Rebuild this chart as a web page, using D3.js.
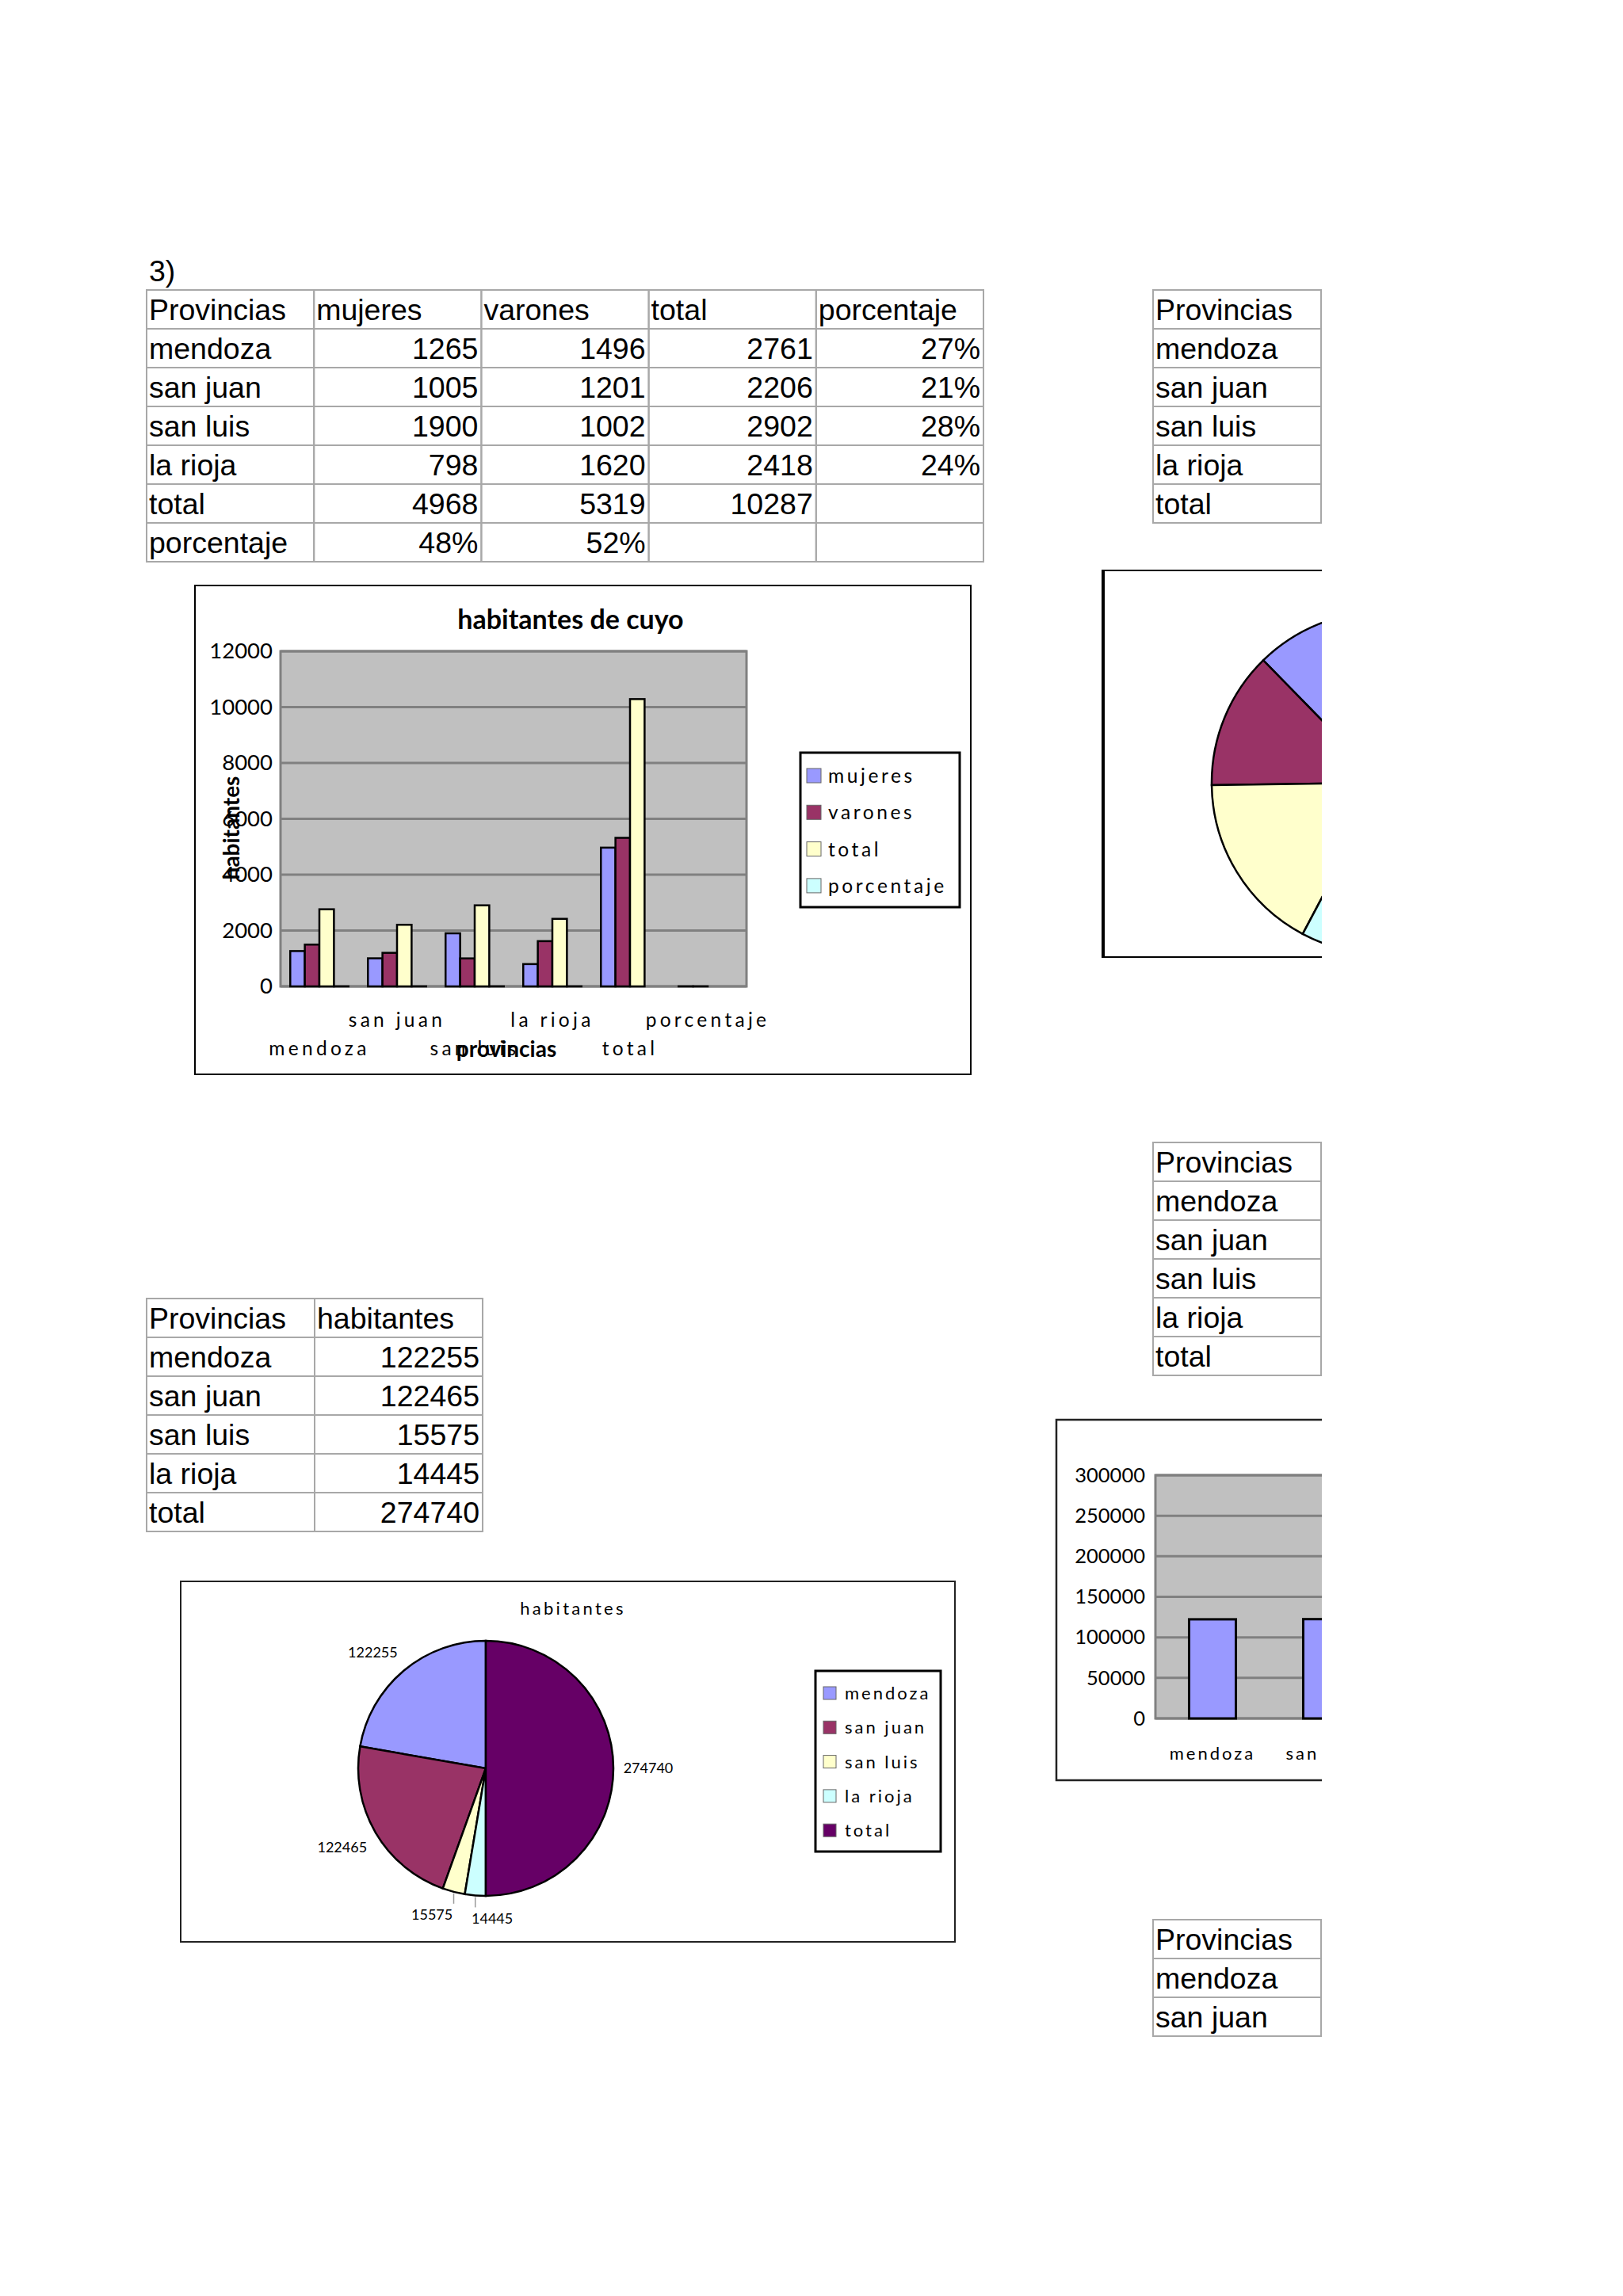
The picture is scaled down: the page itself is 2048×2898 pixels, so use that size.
<!DOCTYPE html>
<html>
<head>
<meta charset="utf-8">
<script src="https://cdn.jsdelivr.net/npm/d3@7"></script>
<style>
  body { margin: 0; background: #fff; }
</style>
</head>
<body>
<div id="page"></div>
<script>

// ---------------------------------------------------------------- data
var provincias = ["mendoza", "san juan", "san luis", "la rioja", "total"];
var mujeres = [1265, 1005, 1900, 798, 4968];
var varones = [1496, 1201, 1002, 1620, 5319];
var totales = [2761, 2206, 2902, 2418, 10287];
var porcentajeCol = ["27%", "21%", "28%", "24%", ""];
var porcentajeRow = ["48%", "52%", "", ""];
var habitantes = [122255, 122465, 15575, 14445, 274740];

// series of the first chart (the sheet range includes the porcentaje row and column)
var series1 = ["mujeres", "varones", "total", "porcentaje"];
var categories1 = ["mendoza", "san juan", "san luis", "la rioja", "total", "porcentaje"];
var bars1 = {
  mujeres:    [1265, 1005, 1900, 798, 4968, 0.48],
  varones:    [1496, 1201, 1002, 1620, 5319, 0.52],
  total:      [2761, 2206, 2902, 2418, 10287, null],
  porcentaje: [0.27, 0.21, 0.28, 0.24, null, null]
};
var ticks1 = [0, 2000, 4000, 6000, 8000, 10000, 12000];
var ticks2 = [0, 50000, 100000, 150000, 200000, 250000, 300000];

// cropped pie at the right: shares estimated from the visible slice angles
var pie1Shares = [12.3, 12.9, 17.0, 7.7, 50.0];

var colors = ["#9999ff", "#993366", "#ffffcc", "#ccffff", "#660066"];

// ---------------------------------------------------------------- page
var W = 2048, H = 2898;
var tableFont = "'Liberation Sans', Arial, sans-serif";
var chartFont = "Lato, 'Open Sans', sans-serif";

var svg = d3.select("#page").append("svg")
  .attr("width", W).attr("height", H)
  .style("background", "#fff");

// the exported page is cut at the right margin
svg.append("defs").append("clipPath").attr("id", "pageClip")
  .append("rect").attr("x", 0).attr("y", 0).attr("width", 1668).attr("height", H);
var page = svg.append("g").attr("clip-path", "url(#pageClip)");

// ---------------------------------------------------------------- tables
function drawTable(x, y, colW, rowH, rows) {
  var g = page.append("g").attr("transform", "translate(" + x + "," + y + ")");
  rows.forEach(function(row, i) {
    var cells = g.selectAll(null).data(row).enter().append("g");
    cells.append("rect")
      .attr("x", function(d, j) { return j * colW; })
      .attr("y", i * rowH)
      .attr("width", colW).attr("height", rowH)
      .style("fill", "none").style("stroke", "#a8a8a8").style("stroke-width", 2);
    cells.append("text")
      .attr("x", function(d, j) { return (i > 0 && j > 0) ? (j + 1) * colW - 4 : j * colW + 3; })
      .attr("y", i * rowH + 38)
      .attr("text-anchor", function(d, j) { return (i > 0 && j > 0) ? "end" : "start"; })
      .style("font-family", tableFont).style("font-size", "37.5px").style("fill", "#000")
      .text(function(d) { return d; });
  });
}

page.append("text").attr("x", 188).attr("y", 355)
  .style("font-family", tableFont).style("font-size", "37.5px").text("3)");

var rowsT1 = [["Provincias", "mujeres", "varones", "total", "porcentaje"]];
provincias.forEach(function(p, i) {
  rowsT1.push([p, mujeres[i], varones[i], totales[i], porcentajeCol[i]]);
});
rowsT1.push(["porcentaje"].concat(porcentajeRow));
drawTable(185, 366, 211.2, 49, rowsT1);

var rowsT2 = [["Provincias", "habitantes"]];
provincias.forEach(function(p, i) { rowsT2.push([p, habitantes[i]]); });
drawTable(185, 1639, 212, 49, rowsT2);

// right column tables (only the first column survives the crop)
var rowsRight = [["Provincias"]].concat(provincias.map(function(p) { return [p]; }));
drawTable(1455, 366, 212, 49, rowsRight);
drawTable(1455, 1442, 212, 49, rowsRight);
drawTable(1455, 2423, 212, 49, rowsRight.slice(0, 3));

// ---------------------------------------------------------------- chart 1: habitantes de cuyo
var c1 = { left: 354, right: 942, top: 822, bottom: 1245 };
var g1 = page.append("g");

g1.append("rect").attr("x", 246).attr("y", 739).attr("width", 979).attr("height", 617)
  .style("fill", "#fff").style("stroke", "#000").style("stroke-width", 2);

var x0 = d3.scaleBand().domain(categories1).range([c1.left, c1.right])
  .paddingInner(0.25).paddingOuter(0.125);
var x1 = d3.scaleBand().domain(series1).range([0, x0.bandwidth()]);
var y1 = d3.scaleLinear().domain([0, 12000]).range([c1.bottom, c1.top]);

g1.append("rect").attr("x", c1.left).attr("y", c1.top)
  .attr("width", c1.right - c1.left).attr("height", c1.bottom - c1.top)
  .style("fill", "#c0c0c0").style("stroke", "#808080").style("stroke-width", 3);

g1.selectAll(".grid").data(ticks1).enter().append("line")
  .attr("x1", c1.left).attr("x2", c1.right)
  .attr("y1", function(d) { return y1(d); }).attr("y2", function(d) { return y1(d); })
  .style("stroke", "#808080").style("stroke-width", 3);

var ax1 = g1.append("g").attr("transform", "translate(" + c1.left + ",0)")
  .call(d3.axisLeft(y1).tickValues(ticks1).tickSize(0).tickPadding(10).tickFormat(d3.format("d")));
ax1.select(".domain").remove();
ax1.selectAll("text").style("font-family", chartFont).style("font-size", "27.5px").style("fill", "#000");

series1.forEach(function(s, si) {
  var data = bars1[s].map(function(v, i) { return { c: categories1[i], v: v }; })
    .filter(function(d) { return d.v !== null; });
  g1.selectAll(".bar" + si).data(data).enter().append("rect")
    .attr("x", function(d) { return x0(d.c) + x1(s); })
    .attr("y", function(d) { return y1(d.v); })
    .attr("width", x1.bandwidth())
    .attr("height", function(d) { return y1(0) - y1(d.v); })
    .style("fill", colors[si]).style("stroke", "#000").style("stroke-width", 2.5);
});

// staggered category labels
g1.selectAll(".xlab").data(categories1).enter().append("text")
  .attr("x", function(d) { return x0(d) + x0.bandwidth() / 2; })
  .attr("y", function(d, i) { return i % 2 === 0 ? 1332 : 1296; })
  .attr("text-anchor", "middle")
  .style("font-family", chartFont).style("font-size", "24.5px").style("letter-spacing", "4.3px")
  .text(function(d) { return d; });

g1.append("text").attr("x", 720).attr("y", 794).attr("text-anchor", "middle")
  .style("font-family", chartFont).style("font-size", "34px").style("font-weight", "bold")
  .text("habitantes de cuyo");
g1.append("text").attr("x", 639).attr("y", 1334).attr("text-anchor", "middle")
  .style("font-family", chartFont).style("font-size", "28px").style("font-weight", "bold")
  .text("provincias");
g1.append("text").attr("transform", "translate(302,1045) rotate(-90)").attr("text-anchor", "middle")
  .style("font-family", chartFont).style("font-size", "28px").style("font-weight", "bold")
  .text("habitantes");

var leg1 = g1.append("g").attr("transform", "translate(1010,950)");
leg1.append("rect").attr("width", 201).attr("height", 195)
  .style("fill", "#fff").style("stroke", "#000").style("stroke-width", 3);
var li1 = leg1.selectAll(".li").data(series1).enter().append("g")
  .attr("transform", function(d, i) { return "translate(0," + (29 + i * 46.3) + ")"; });
li1.append("rect").attr("x", 8).attr("y", -9).attr("width", 18).attr("height", 18)
  .style("fill", function(d, i) { return colors[i]; }).style("stroke", "#666").style("stroke-width", 1);
li1.append("text").attr("x", 35).attr("y", 9)
  .style("font-family", chartFont).style("font-size", "24.5px").style("letter-spacing", "3.6px")
  .text(function(d) { return d; });

// ---------------------------------------------------------------- chart 1b: cropped pie (right)
var g1b = page.append("g");
g1b.append("rect").attr("x", 1391).attr("y", 720).attr("width", 700).attr("height", 488)
  .style("fill", "#fff").style("stroke", "#000").style("stroke-width", 2);
g1b.append("line").attr("x1", 1392).attr("x2", 1392).attr("y1", 720).attr("y2", 1208)
  .style("stroke", "#000").style("stroke-width", 4);

var pieCcw = d3.pie().sort(null).startAngle(0).endAngle(-2 * Math.PI);
var arc1 = d3.arc().innerRadius(0).outerRadius(216);
g1b.append("g").attr("transform", "translate(1745,988)")
  .selectAll("path").data(pieCcw(pie1Shares)).enter().append("path")
  .attr("d", arc1)
  .style("fill", function(d, i) { return colors[i]; })
  .style("stroke", "#000").style("stroke-width", 2.5);

// ---------------------------------------------------------------- chart 2: habitantes (pie)
var g2 = page.append("g");
g2.append("rect").attr("x", 228).attr("y", 1996).attr("width", 977).attr("height", 455)
  .style("fill", "#fff").style("stroke", "#222").style("stroke-width", 2);

g2.append("text").attr("x", 723).attr("y", 2038).attr("text-anchor", "middle")
  .style("font-family", chartFont).style("font-size", "22px").style("letter-spacing", "3.3px")
  .text("habitantes");

var pr = 161, pcx = 613, pcy = 2232;
var arc2 = d3.arc().innerRadius(0).outerRadius(pr);
var slices2 = pieCcw(habitantes);
var pg = g2.append("g").attr("transform", "translate(" + pcx + "," + pcy + ")");
pg.selectAll("path").data(slices2).enter().append("path")
  .attr("d", arc2)
  .style("fill", function(d, i) { return colors[i]; })
  .style("stroke", "#000").style("stroke-width", 2.5);

// data labels outside the slices, with short leaders for the thin ones
var labels = slices2.map(function(d) {
  var a = (d.startAngle + d.endAngle) / 2;
  var dx = Math.sin(a), dy = -Math.cos(a);
  var small = Math.abs(d.endAngle - d.startAngle) < 0.35;
  var gap = small ? 18 : 14;
  var ex = Math.abs(dx) > 0.3 ? Math.sign(dx) * 30 : 0;
  var ey = Math.abs(dy) > 0.2 ? Math.sign(dy) * 12 : 0;
  return {
    text: String(d.value), small: small,
    ax: dx * pr, ay: dy * pr,
    x: dx * (pr + gap) + ex, y: dy * (pr + gap) + ey
  };
});
// push overlapping labels apart horizontally
for (var i = 0; i < labels.length; i++) {
  for (var j = i + 1; j < labels.length; j++) {
    var a = labels[i], b = labels[j];
    var ov = 76 - Math.abs(a.x - b.x);
    if (ov > 0 && Math.abs(a.y - b.y) < 20) {
      var s = a.x < b.x ? -1 : 1;
      a.x += s * ov / 2; b.x -= s * ov / 2;
    }
  }
}
pg.selectAll(".leader").data(labels.filter(function(d) { return d.small; })).enter().append("line")
  .attr("x1", function(d) { return d.ax; }).attr("x2", function(d) { return d.ax; })
  .attr("y1", function(d) { return d.ay + 2; }).attr("y2", function(d) { return d.ay + 15; })
  .style("stroke", "#999").style("stroke-width", 1.5);
pg.selectAll(".plab").data(labels).enter().append("text")
  .attr("x", function(d) { return d.x; }).attr("y", function(d) { return d.y + 6; })
  .attr("text-anchor", "middle")
  .style("font-family", chartFont).style("font-size", "18px")
  .text(function(d) { return d.text; });

var leg2 = g2.append("g").attr("transform", "translate(1029,2109)");
leg2.append("rect").attr("width", 158).attr("height", 228)
  .style("fill", "#fff").style("stroke", "#000").style("stroke-width", 3);
var li2 = leg2.selectAll(".li").data(provincias).enter().append("g")
  .attr("transform", function(d, i) { return "translate(0," + (28 + i * 43.3) + ")"; });
li2.append("rect").attr("x", 10).attr("y", -8).attr("width", 16).attr("height", 16)
  .style("fill", function(d, i) { return colors[i]; }).style("stroke", "#666").style("stroke-width", 1);
li2.append("text").attr("x", 37).attr("y", 8)
  .style("font-family", chartFont).style("font-size", "22px").style("letter-spacing", "3px")
  .text(function(d) { return d; });

// ---------------------------------------------------------------- chart 2b: cropped bar chart (right)
var c2 = { left: 1458, top: 1862, bottom: 2169 };
var g3 = page.append("g");
g3.append("rect").attr("x", 1333).attr("y", 1792).attr("width", 900).attr("height", 455)
  .style("fill", "#fff").style("stroke", "#222").style("stroke-width", 2.5);

var xb = d3.scaleBand().domain(provincias).range([c2.left, c2.left + 720])
  .paddingInner(0.59).paddingOuter(0.295);
var yb = d3.scaleLinear().domain([0, 300000]).range([c2.bottom, c2.top]);

g3.append("rect").attr("x", c2.left).attr("y", c2.top)
  .attr("width", 720).attr("height", c2.bottom - c2.top)
  .style("fill", "#c0c0c0").style("stroke", "#808080").style("stroke-width", 3);
g3.selectAll(".grid").data(ticks2).enter().append("line")
  .attr("x1", c2.left).attr("x2", c2.left + 720)
  .attr("y1", function(d) { return yb(d); }).attr("y2", function(d) { return yb(d); })
  .style("stroke", "#808080").style("stroke-width", 3);

var ax2 = g3.append("g").attr("transform", "translate(" + c2.left + ",0)")
  .call(d3.axisLeft(yb).tickValues(ticks2).tickSize(0).tickPadding(13).tickFormat(d3.format("d")));
ax2.select(".domain").remove();
ax2.selectAll("text").style("font-family", chartFont).style("font-size", "25.5px").style("fill", "#000");

g3.selectAll(".bar").data(provincias).enter().append("rect")
  .attr("x", function(d) { return xb(d); })
  .attr("y", function(d, i) { return yb(habitantes[i]); })
  .attr("width", xb.bandwidth())
  .attr("height", function(d, i) { return yb(0) - yb(habitantes[i]); })
  .style("fill", colors[0]).style("stroke", "#000").style("stroke-width", 3);

g3.selectAll(".xlab").data(provincias).enter().append("text")
  .attr("x", function(d) { return xb(d) + xb.bandwidth() / 2; })
  .attr("y", 2221).attr("text-anchor", "middle")
  .style("font-family", chartFont).style("font-size", "22px").style("letter-spacing", "3px")
  .text(function(d) { return d; });

</script>
</body>
</html>
